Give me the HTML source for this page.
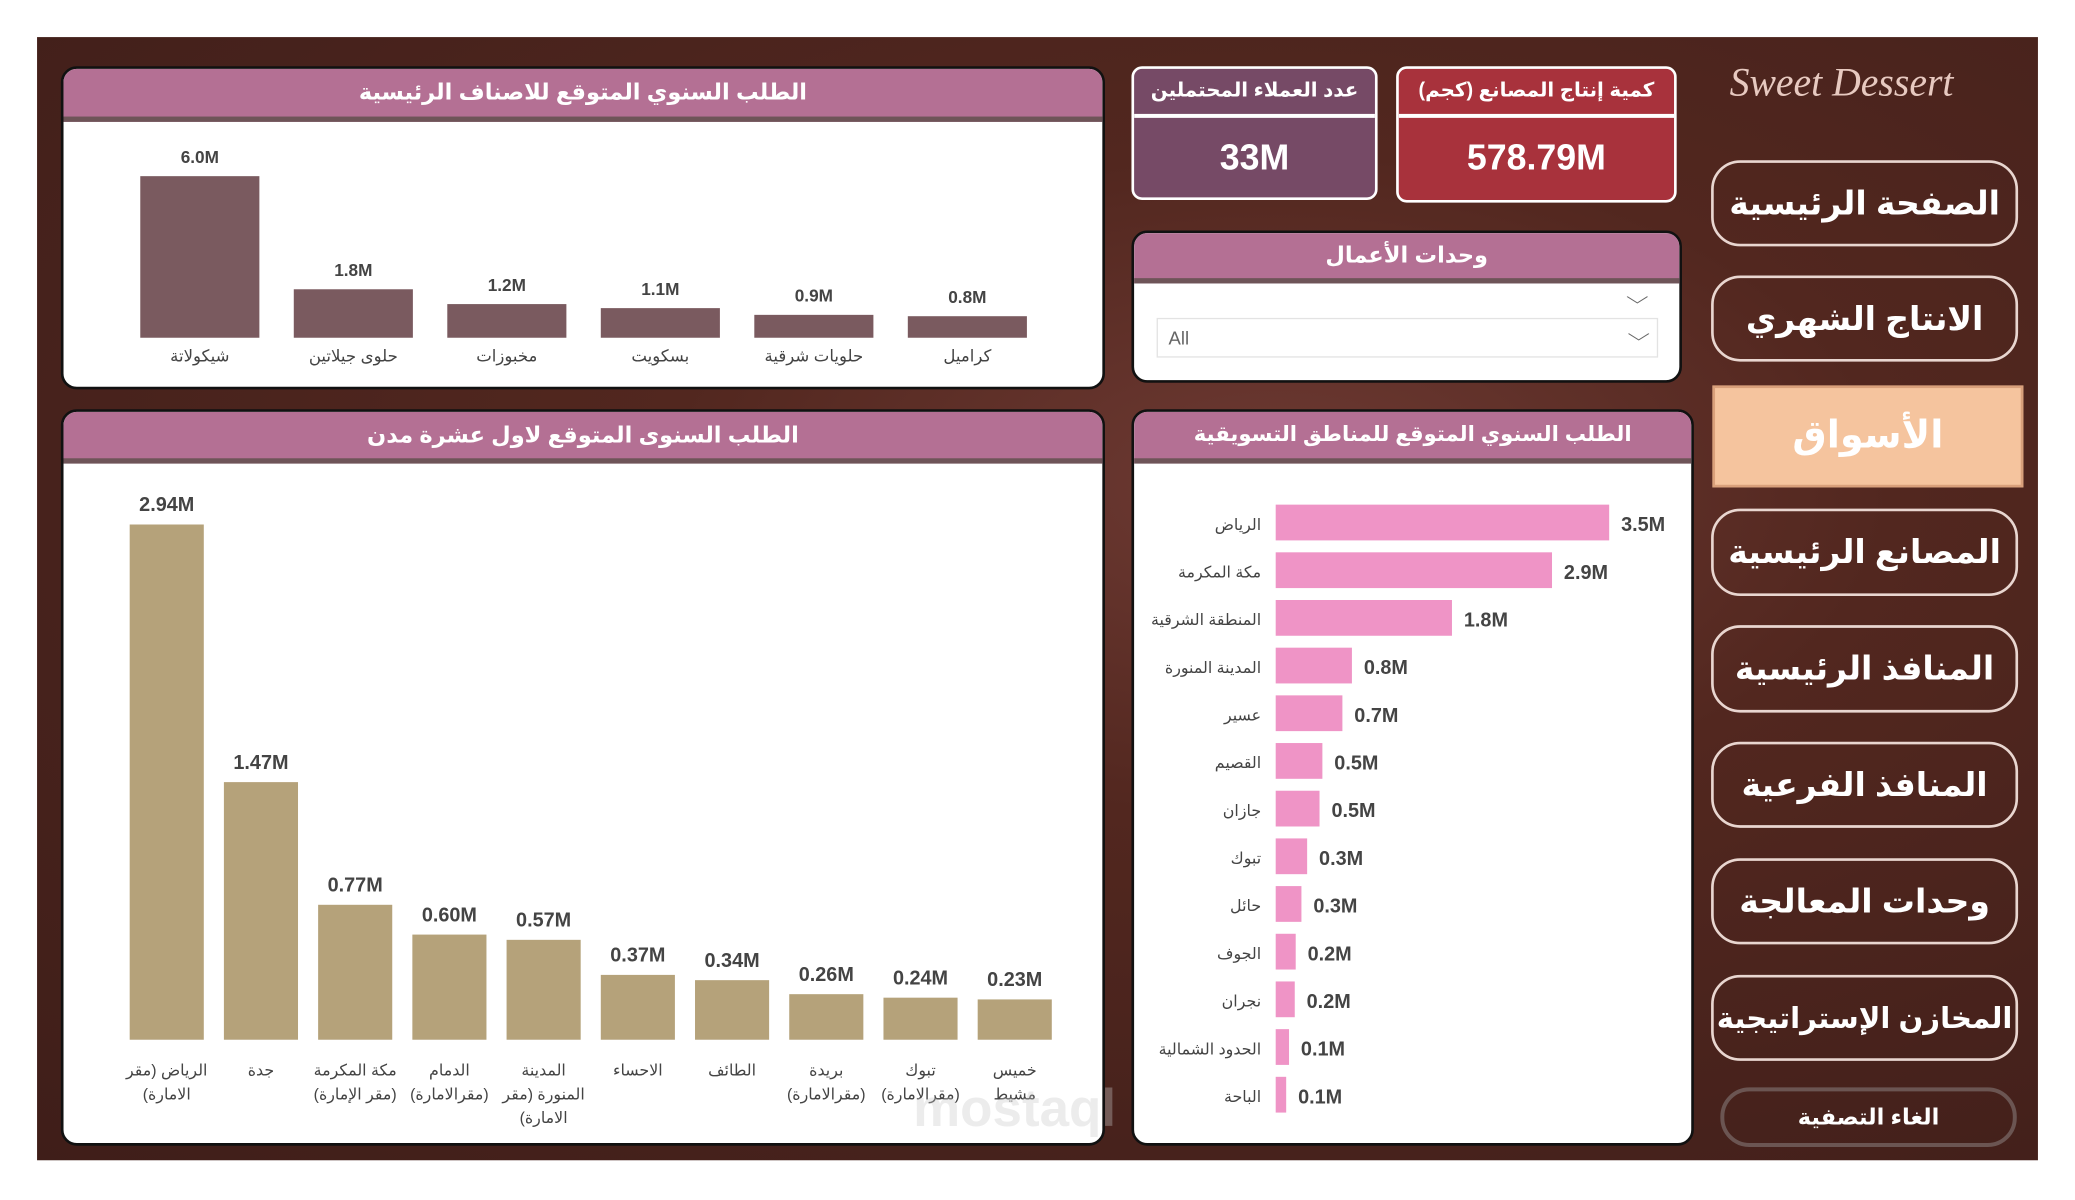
<!DOCTYPE html>
<html><head><meta charset="utf-8">
<style>
html,body{margin:0;padding:0;width:2075px;height:1200px;overflow:hidden;background:#fff;}
#w{position:absolute;left:0;top:0;width:1568px;height:906px;transform-origin:0 0;transform:scale(1.32334,1.3245);font-family:"Liberation Sans","DejaVu Sans",sans-serif;}
.bg{position:absolute;left:28px;top:28px;width:1512px;height:848px;background:radial-gradient(ellipse at 62% 40%,#6e3a33 0%,#52271f 35%,#47221c 70%,#3f1e19 100%);}
.panel{position:absolute;background:#fff;border:2px solid #111;border-radius:12px;overflow:hidden;box-sizing:border-box;}
.hdr{position:absolute;left:0;right:0;top:0;background:#b47094;color:#fff;text-align:center;font-weight:bold;border-bottom:4px solid #6e5458;direction:rtl;white-space:nowrap;}
.kpi{position:absolute;border:2px solid #fff;border-radius:8px;box-sizing:border-box;color:#fff;text-align:center;overflow:hidden;}
.kpi .t{height:34px;line-height:34px;font-size:15px;font-weight:bold;border-bottom:3px solid #fff;direction:rtl;white-space:nowrap;}
.kpi .v{font-size:27px;font-weight:bold;line-height:60px;}
.nav{position:absolute;left:1293px;width:232px;border:2px solid #e9d6d0;border-radius:22px;box-sizing:border-box;color:#fff;font-weight:bold;font-size:25px;text-align:center;direction:rtl;white-space:nowrap;}
svg text{font-family:"Liberation Sans","DejaVu Sans",sans-serif;}
</style></head><body>
<div id="w">
<div class="bg"></div>

<div class="panel" style="left:46px;top:50px;width:789px;height:244px;">
 <div class="hdr" style="height:36px;line-height:36px;font-size:17px;">الطلب السنوي المتوقع للاصناف الرئيسية</div>
 <svg id="c1" width="789" height="244" style="position:absolute;left:0;top:0"></svg>
</div>

<div class="panel" style="left:46px;top:309px;width:789px;height:556px;">
 <div class="hdr" style="height:35px;line-height:35px;font-size:17px;">الطلب السنوى المتوقع لاول عشرة مدن</div>
 <svg id="c2" width="789" height="556" style="position:absolute;left:0;top:0"></svg>
</div>

<div class="kpi" style="left:855px;top:50px;width:186px;height:101px;background:#764a66;">
 <div class="t">عدد العملاء المحتملين</div>
 <div class="v">33M</div>
</div>
<div class="kpi" style="left:1055px;top:50px;width:212px;height:103px;background:#a8323c;">
 <div class="t">كمية إنتاج المصانع (كجم)</div>
 <div class="v">578.79M</div>
</div>

<div class="panel" style="left:855px;top:174px;width:416px;height:115px;">
 <div class="hdr" style="height:34px;line-height:34px;font-size:17px;">وحدات الأعمال</div>
 <div style="position:absolute;right:26px;top:40px;color:#666;font-size:14px;transform:scaleX(1.6);">⌵</div>
 <div style="position:absolute;left:17px;top:64px;width:379px;height:30px;border:1px solid #e3e3e3;box-sizing:border-box;">
  <span style="position:absolute;left:8px;top:6px;font-size:14px;color:#666;">All</span>
  <span style="position:absolute;right:8px;top:3px;font-size:14px;color:#666;transform:scaleX(1.6);">⌵</span>
 </div>
</div>

<div class="panel" style="left:855px;top:309px;width:425px;height:556px;">
 <div class="hdr" style="height:35px;line-height:35px;font-size:16px;">الطلب السنوي المتوقع للمناطق التسويقية</div>
 <svg id="c3" width="425" height="556" style="position:absolute;left:0;top:0"></svg>
</div>

<div style="position:absolute;left:1307px;top:46px;font-family:'Liberation Serif',serif;font-style:italic;font-size:30px;color:#e7c9c0;">Sweet Dessert</div>

<div class="nav" style="top:121px;height:65px;line-height:62px;">الصفحة الرئيسية</div>
<div class="nav" style="top:208px;height:65px;line-height:62px;">الانتاج الشهري</div>
<div class="nav" style="top:291px;height:77px;line-height:72px;left:1294px;width:235px;border-radius:0;border:2px solid #d9a07b;background:#f5c49e;font-size:29px;">الأسواق</div>
<div class="nav" style="top:384px;height:66px;line-height:62px;">المصانع الرئيسية</div>
<div class="nav" style="top:472px;height:66px;line-height:62px;">المنافذ الرئيسية</div>
<div class="nav" style="top:560px;height:65px;line-height:62px;">المنافذ الفرعية</div>
<div class="nav" style="top:648px;height:65px;line-height:62px;">وحدات المعالجة</div>
<div class="nav" style="top:736px;height:65px;line-height:62px;font-size:22px;">المخازن الإستراتيجية</div>
<div class="nav" style="top:821px;height:45px;line-height:40px;left:1300px;width:224px;font-size:17px;border:3px solid #6b5552;">الغاء التصفية</div>

<div style="position:absolute;left:690px;top:815px;font-size:40px;font-weight:bold;color:rgba(200,200,200,0.35);">mostaql</div>
</div>

<script>
const NS='http://www.w3.org/2000/svg';
const catNames=['شيكولاتة','حلوى جيلاتين','مخبوزات','بسكويت','حلويات شرقية','كراميل'];
const catValues=[6.0,1.8,1.25,1.1,0.85,0.8];
const catLabels=['6.0M','1.8M','1.2M','1.1M','0.9M','0.8M'];
const cityNames=[['الرياض (مقر','الامارة)'],['جدة'],['مكة المكرمة','(مقر الإمارة)'],['الدمام','(مقرالامارة)'],['المدينة','المنورة (مقر','الامارة)'],['الاحساء'],['الطائف'],['بريدة','(مقرالامارة)'],['تبوك','(مقرالامارة)'],['خميس','مشيط']];
const cityValues=[2.94,1.47,0.77,0.60,0.57,0.37,0.34,0.26,0.24,0.23];
const cityLabels=['2.94M','1.47M','0.77M','0.60M','0.57M','0.37M','0.34M','0.26M','0.24M','0.23M'];
const regionNames=['الرياض','مكة المكرمة','المنطقة الشرقية','المدينة المنورة','عسير','القصيم','جازان','تبوك','حائل','الجوف','نجران','الحدود الشمالية','الباحة'];
const regionValues=[3.5,2.9,1.85,0.8,0.7,0.49,0.46,0.33,0.27,0.21,0.2,0.14,0.11];
const regionLabels=['3.5M','2.9M','1.8M','0.8M','0.7M','0.5M','0.5M','0.3M','0.3M','0.2M','0.2M','0.1M','0.1M'];

function mk(svg,tag,attrs,txt){const e=document.createElementNS(NS,tag);for(const k in attrs)e.setAttribute(k,attrs[k]);if(txt!==undefined)e.textContent=txt;svg.appendChild(e);return e;}

(function(){
 const svg=document.getElementById('c1');
 const base=203, maxH=122, maxV=6.0;
 const y=v=>base-v/maxV*maxH;
 const x=i=>103+i*116;
 catValues.forEach((v,i)=>{
  const r=mk(svg,'rect',{x:x(i)-45,y:y(v),width:90,height:base-y(v),fill:'#7a5a5f'});
  
  
  const t=mk(svg,'text',{x:x(i),y:y(v)-10,'text-anchor':'middle','font-size':13,'font-weight':'bold',fill:'#444'},catLabels[i]);
  
  
  const c=mk(svg,'text',{x:x(i),y:221,'text-anchor':'middle','font-size':12.5,fill:'#444',direction:'rtl'},catNames[i]);
  
  
 });
})();

(function(){
 const svg=document.getElementById('c2');
 const base=474, maxH=389, maxV=2.94;
 const y=v=>base-v/maxV*maxH;
 const x=i=>78+i*71.2;
 cityValues.forEach((v,i)=>{
  const r=mk(svg,'rect',{x:x(i)-28,y:y(v),width:56,height:base-y(v),fill:'#b5a27a'});
  
  
  const t=mk(svg,'text',{x:x(i),y:y(v)-10,'text-anchor':'middle','font-size':15,'font-weight':'bold',fill:'#444'},cityLabels[i]);
  
  
  cityNames[i].forEach((ln,j)=>{
   const c=mk(svg,'text',{x:x(i),y:501+j*18,'text-anchor':'middle','font-size':12,fill:'#444',direction:'rtl'},ln);
   
   
  });
 });
})();

(function(){
 const svg=document.getElementById('c3');
 const x0=107, perM=72;
 const w=v=>v*perM;
 const y=i=>84+i*36;
 regionValues.forEach((v,i)=>{
  const r=mk(svg,'rect',{x:x0,y:y(i)-14,width:w(v),height:27,fill:'#ef94c6'});
  
  
  const t=mk(svg,'text',{x:x0+w(v)+9,y:y(i)+6,'font-size':15,'font-weight':'bold',fill:'#444'},regionLabels[i]);
  
  
  const c=mk(svg,'text',{x:96,y:y(i)+5,'text-anchor':'start','font-size':12,fill:'#444',direction:'rtl'},regionNames[i]);
  
  
 });
})();
</script>
</body></html>
